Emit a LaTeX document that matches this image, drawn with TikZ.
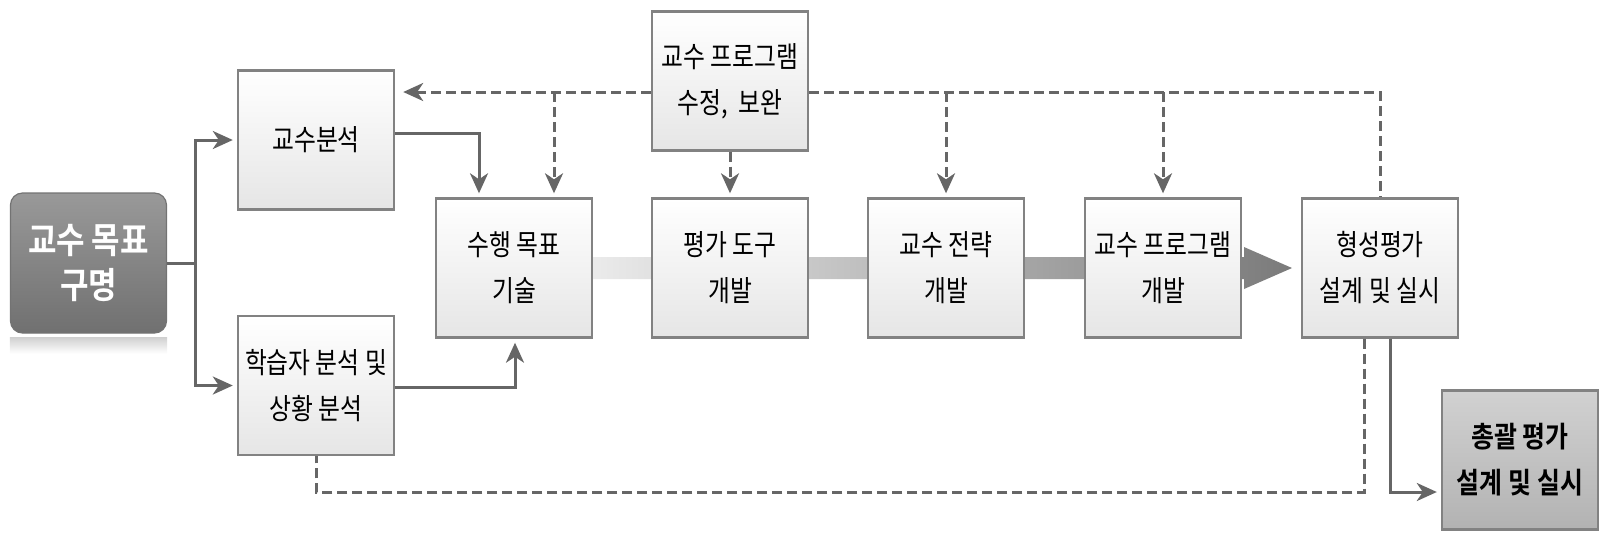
\documentclass[tikz,border=0pt]{standalone}
\usepackage{fontspec}
\newfontfamily\kr[FakeStretch=0.82]{Noto Sans CJK KR}
\newfontfamily\krb[FakeStretch=0.86]{Noto Sans CJK KR Bold}
\usetikzlibrary{calc,arrows.meta}
\definecolor{linegray}{HTML}{666666}
\definecolor{boxline}{HTML}{828282}

\begin{document}
\begin{tikzpicture}[x=0.5pt, y=-0.5pt,
  box/.style={draw=boxline, line width=1.2pt, top color=white, bottom color=black!10,
    minimum width=78pt, minimum height=69.5pt, inner sep=0pt, align=center,
    font=\kr\fontsize{14.5}{23}\selectfont},
  tip/.style={-{Stealth[length=10pt,width=9pt,inset=3pt]}},
  flow/.style={draw=linegray, line width=1.5pt, tip, shorten >=2pt},
  fbline/.style={draw=linegray, line width=1.5pt, dash pattern=on 5pt off 2.5pt},
  fb/.style={fbline, tip, shorten >=2pt}]
\useasboundingbox (0,0) rectangle (1606,543);

\shade[left color=black!3, right color=black!52]
  (514,257) -- (1244,257) -- (1244,247) -- (1292,268) -- (1244,289) -- (1244,279) -- (514,279) -- cycle;

\node[draw=black!55, line width=0.6pt, rounded corners=6pt, top color=black!40, bottom color=black!56,
  minimum width=78pt, minimum height=70pt, inner sep=0pt, align=center, text=white,
  font=\krb\fontsize{18}{22.5}\selectfont] (goal) at (88.5,263) {교수 목표\\구명};
\shade[top color=black!18, bottom color=white]
  ($(goal.south west)+(0,4)$) rectangle ($(goal.south east)+(0,20)$);

\node[box] (anal) at (316,140) {교수분석};
\node[box] (learner) at (316,385.5) {학습자 분석 및\\상황 분석};
\node[box] (perf) at (514,268) {수행 목표\\기술};
\node[box] (tool) at (730,268) {평가 도구\\개발};
\node[box] (strat) at (946,268) {교수 전략\\개발};
\node[box] (prog) at (1163,268) {교수 프로그램\\개발};
\node[box] (form) at (1380,268) {형성평가\\설계 및 실시};
\node[box] (revise) at (730,81) {교수 프로그램\\수정,\hspace{0.2em} 보완};
\node[box, top color=black!18, bottom color=black!30, font=\krb\fontsize{14.5}{23}\selectfont]
  (summ) at (1520,460) {총괄 평가\\설계 및 실시};

\draw[flow] (goal.east) -- ++(28,0) |- (anal.west);
\draw[flow] (goal.east) -- ++(28,0) |- (learner.west);
\draw[flow] ($(anal.east)+(0,-7)$) -| ($(perf.north)+(-35,0)$);
\draw[flow] ($(learner.east)+(0,1.5)$) -| ($(perf.south)+(1,0)$);

\coordinate (fbl) at ($(revise.west)+(0,11)$);
\coordinate (fbr) at ($(revise.east)+(0,11)$);
\coordinate (p1) at ($(perf.north)+(40,0)$);
\draw[fb, shorten >=4pt] (fbl) -- (fbl -| anal.east);
\draw[fb] (fbl -| p1) -- (p1);
\draw[fb] (revise.south) -- (tool.north);
\draw[fbline] (fbr) -| (form.north);
\draw[fb] (strat.north |- fbr) -- (strat.north);
\draw[fb] (prog.north |- fbr) -- (prog.north);

\coordinate (q1) at ($(form.south)+(-16,0)$);
\coordinate (q2) at ($(summ.west)+(0,32)$);
\draw[fbline] (q1) -- (q1 |- q2) -| (learner.south);
\draw[flow] ($(form.south)+(10,0)$) |- (q2);
\end{tikzpicture}
\end{document}
